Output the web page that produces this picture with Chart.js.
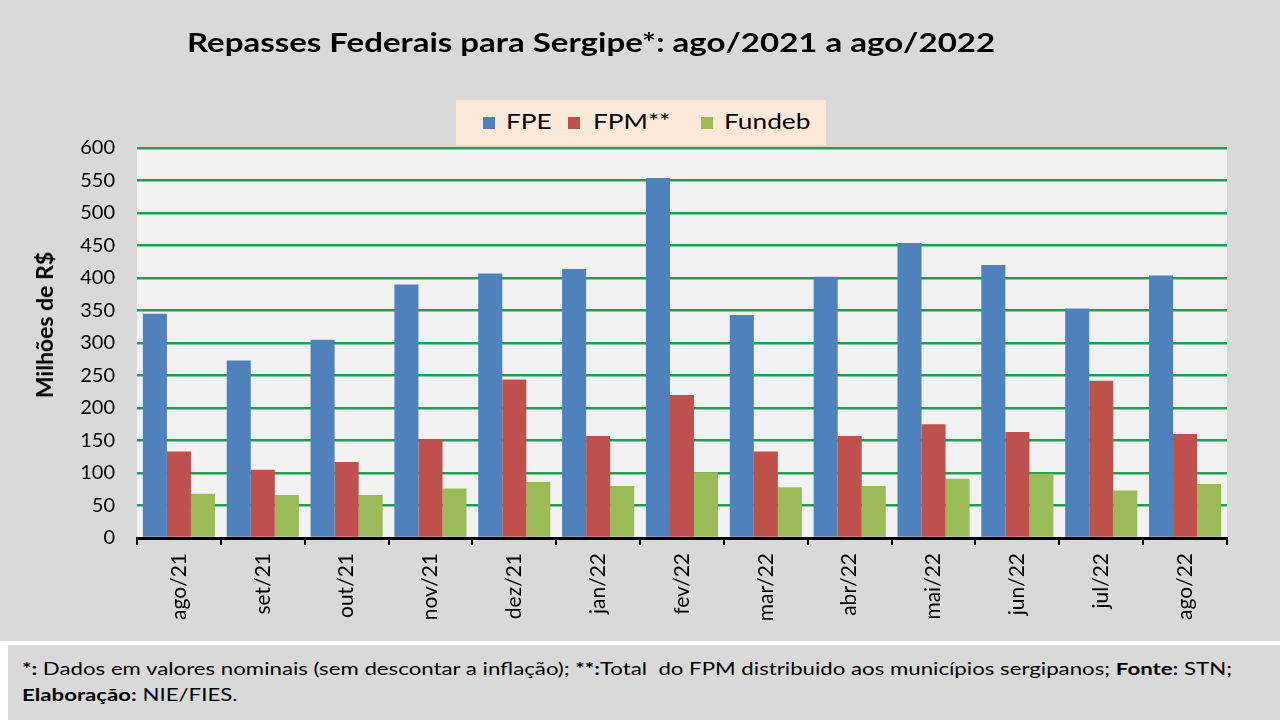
<!DOCTYPE html>
<html><head><meta charset="utf-8">
<script src="https://cdn.jsdelivr.net/npm/chart.js@4"></script>
<style>
html,body{margin:0;padding:0;background:#fff;width:1280px;height:720px;overflow:hidden;font-family:Lato,"Open Sans",sans-serif;}
#main{position:absolute;left:0;top:0;width:1280px;height:641px;background:#d9d9d9;}
#foot{position:absolute;left:8px;top:645px;width:1272px;height:75px;background:#d9d9d9;}
#title{position:absolute;left:0;width:1182px;top:26px;text-align:center;font-weight:bold;font-size:26px;color:#000;transform:scaleX(1.27);transform-origin:591px 0;}
#legend{position:absolute;left:456px;top:100px;width:370px;height:45px;background:#fde9d9;color:#000;}
#legend .sq{position:absolute;top:17px;width:12px;height:12px;}
#legend .tx{position:absolute;top:8px;font-size:21px;line-height:26px;transform:scaleX(1.25);transform-origin:0 0;white-space:nowrap;}
#ytitle{position:absolute;left:44px;top:325px;transform:translate(-50%,-50%) rotate(-90deg);font-weight:bold;font-size:23px;white-space:nowrap;color:#000;}
#cw{position:absolute;left:0;top:0;width:1280px;height:641px;}
#foottext{position:absolute;left:14px;top:11px;font-size:17.5px;line-height:26px;color:#000;white-space:nowrap;transform:scaleX(1.27);transform-origin:0 0;}
</style></head>
<body>
<div id="main"></div>
<div id="foot"><div id="foottext"><b>*:</b> Dados em valores nominais (sem descontar a inflação); <b>**:</b>Total&nbsp; do FPM distribuido aos municípios sergipanos; <b>Fonte:</b> STN;<br><b>Elaboração:</b> NIE/FIES.</div></div>
<div id="cw"><canvas id="c" width="1280" height="641"></canvas></div>
<div id="title">Repasses Federais para Sergipe*: ago/2021 a ago/2022</div>
<div id="legend">
<div class="sq" style="left:27px;background:#4f81bd"></div><div class="tx" style="left:50px">FPE</div>
<div class="sq" style="left:112px;background:#c0504d"></div><div class="tx" style="left:137px">FPM**</div>
<div class="sq" style="left:245px;background:#9bbb59"></div><div class="tx" style="left:268px">Fundeb</div>
</div>
<div id="ytitle">Milhões de R$</div>
<script>
const categories = ["ago/21","set/21","out/21","nov/21","dez/21","jan/22","fev/22","mar/22","abr/22","mai/22","jun/22","jul/22","ago/22"];
const fpe    = [345, 273, 305, 390, 407, 414, 554, 343, 402, 454, 420, 353, 404];
const fpm    = [133, 105, 117, 152, 244, 157, 220, 133, 157, 175, 163, 242, 160];
const fundeb = [68, 66, 66, 76, 86, 80, 101, 78, 80, 91, 99, 73, 83];
const yTicks = [0,50,100,150,200,250,300,350,400,450,500,550,600];

const bgPlugin = {
  id:'bg',
  beforeDraw(chart){
    const {ctx, chartArea:a} = chart;
    ctx.save(); ctx.fillStyle = '#f2f2f2';
    ctx.fillRect(a.left, a.top, a.right-a.left, a.bottom-a.top);
    ctx.restore();
  }
};

new Chart(document.getElementById('c'), {
  type:'bar',
  data:{
    labels: categories,
    datasets:[
      {label:'FPE', data:fpe, backgroundColor:'#4f81bd'},
      {label:'FPM**', data:fpm, backgroundColor:'#c0504d'},
      {label:'Fundeb', data:fundeb, backgroundColor:'#9bbb59'}
    ]
  },
  options:{
    responsive:false, animation:false,
    layout:{padding:{top:148,right:53,bottom:0,left:0}},
    plugins:{legend:{display:false}, tooltip:{enabled:false}},
    datasets:{bar:{categoryPercentage:0.86, barPercentage:1.0}},
    scales:{
      x:{
        grid:{offset:true, drawOnChartArea:false, color:'#000', lineWidth:2, tickLength:7},
        border:{display:true, color:'#000', width:3},
        ticks:{minRotation:90, maxRotation:90, color:'#000', font:{family:'Lato', size:21}, padding:8},
        afterFit(s){ s.height = 103; }
      },
      y:{
        min:0, max:600,
        afterBuildTicks(s){ s.ticks = yTicks.map(v=>({value:v})); },
        grid:{color:(c)=> c.tick && c.tick.value===0 ? 'rgba(0,0,0,0)' : '#1f9f50', lineWidth:2.5, drawTicks:false},
        border:{display:false},
        ticks:{color:'#000', font:{family:'Lato', size:20}, padding:22},
        afterFit(s){ s.width = 137; }
      }
    }
  },
  plugins:[bgPlugin]
});
</script>
</body></html>
